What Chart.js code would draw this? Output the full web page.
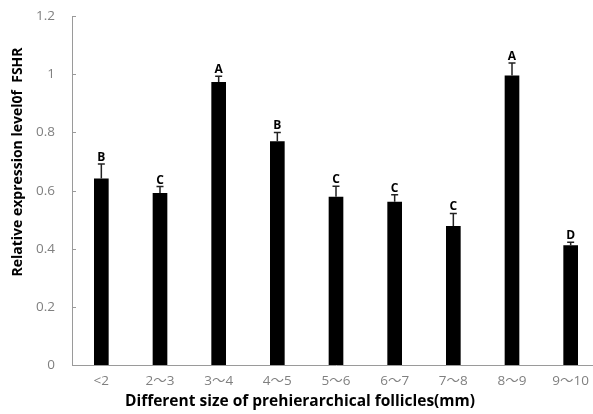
<!DOCTYPE html>
<html>
<head>
<meta charset="utf-8">
<script src="https://cdn.jsdelivr.net/npm/chart.js@4"></script>
<style>
  html, body { margin: 0; padding: 0; background: #fff; overflow: hidden; }
  #wrap { position: relative; width: 600px; height: 414px; }
</style>
</head>
<body>
<div id="wrap"><canvas id="chartCanvas"></canvas></div>
<script>
// follicle size classes (mm)
const categories = ["<2", "2～3", "3～4", "4～5", "5～6", "6～7", "7～8", "8～9", "9～10"];
// relative FSHR expression
const values = [0.642, 0.592, 0.973, 0.770, 0.579, 0.562, 0.479, 0.996, 0.413];
// upper error (SE)
const errors = [0.050, 0.022, 0.020, 0.030, 0.036, 0.024, 0.043, 0.043, 0.010];
// significance letters
const letters = ["B", "C", "A", "B", "C", "C", "C", "A", "D"];
const yTickLabels = ["0", "0.2", "0.4", "0.6", "0.8", "1", "1.2"];

const FONT = "'Open Sans', 'Noto Sans CJK SC', sans-serif";
const AXIS_GREY = "#9a9a9a";

// error bars + letters above each bar
const errorBarPlugin = {
    id: 'errorBars',
    afterDatasetsDraw(chart) {
        const ctx = chart.ctx;
        const xs = chart.scales.x, ys = chart.scales.y;
        ctx.save();
        for (let i = 0; i < values.length; i++) {
            let x = xs.getPixelForValue(i);
            let yTop = ys.getPixelForValue(values[i]);
            let yErr = ys.getPixelForValue(values[i] + errors[i]);
            ctx.strokeStyle = "#222";
            ctx.lineWidth = 1.5;
            ctx.beginPath();
            ctx.moveTo(x, yTop);
            ctx.lineTo(x, yErr);
            ctx.moveTo(x - 3.5, yErr);
            ctx.lineTo(x + 3.5, yErr);
            ctx.stroke();

            ctx.fillStyle = "#000";
            ctx.font = "bold 12px " + FONT;
            ctx.textAlign = "center";
            ctx.textBaseline = "alphabetic";
            ctx.fillText(letters[i], x, yErr - 3);
        }
        ctx.restore();
    }
};

// inside tick marks on the y axis + rotated y title
const axisExtrasPlugin = {
    id: 'axisExtras',
    afterDraw(chart) {
        const ctx = chart.ctx;
        const ys = chart.scales.y;
        const left = chart.chartArea.left;
        ctx.save();
        ctx.strokeStyle = AXIS_GREY;
        ctx.lineWidth = 1;
        ys.ticks.forEach(t => {
            let y = Math.round(ys.getPixelForValue(t.value)) + 0.5;
            ctx.beginPath();
            ctx.moveTo(left, y);
            ctx.lineTo(left + 4, y);
            ctx.stroke();
        });

        ctx.translate(18, 162);
        ctx.rotate(-Math.PI / 2);
        ctx.fillStyle = "#000";
        ctx.font = "bold 14px " + FONT;
        ctx.textAlign = "center";
        ctx.textBaseline = "middle";
        ctx.fillText("Relative expression level0f  FSHR", 0, 0);
        ctx.restore();
    }
};

new Chart(document.getElementById("chartCanvas").getContext('2d'), {
    type: 'bar',
    data: {
        labels: categories,
        datasets: [{
            data: values,
            backgroundColor: "#000",
            borderWidth: 0,
            categoryPercentage: 1.0,
            barPercentage: 0.25
        }]
    },
    options: {
        responsive: true,
        maintainAspectRatio: false,
        animation: false,
        layout: { padding: { top: 16, left: 0, right: 0, bottom: 0 } },
        plugins: {
            legend: { display: false },
            tooltip: { enabled: false },
            title: {
                display: true,
                position: 'bottom',
                text: "Different size of prehierarchical follicles(mm)",
                color: "#000",
                font: { family: FONT, size: 15.5, weight: 'bold' },
                padding: { top: 0, bottom: 3 }
            }
        },
        scales: {
            x: {
                grid: { display: false, drawTicks: false },
                border: { display: true, color: AXIS_GREY, width: 1 },
                ticks: {
                    color: "#808080",
                    font: { family: FONT, size: 13.5 },
                    padding: 8,
                    maxRotation: 0,
                    autoSkip: false
                },
                afterFit(scale) { scale.height = 27; }
            },
            y: {
                min: 0,
                max: 1.2,
                // invisible outer ticks only used to push labels left
                grid: {
                    display: true,
                    drawOnChartArea: false,
                    drawTicks: true,
                    tickLength: 14,
                    tickColor: 'rgba(0,0,0,0)',
                    color: 'rgba(0,0,0,0)'
                },
                border: { display: true, color: AXIS_GREY, width: 1 },
                ticks: {
                    stepSize: 0.2,
                    color: "#808080",
                    font: { family: FONT, size: 13.5 },
                    padding: 3,
                    callback: (v, i) => yTickLabels[i]
                },
                afterFit(scale) { scale.width = 72; }
            }
        }
    },
    plugins: [errorBarPlugin, axisExtrasPlugin]
});
</script>
</body>
</html>
